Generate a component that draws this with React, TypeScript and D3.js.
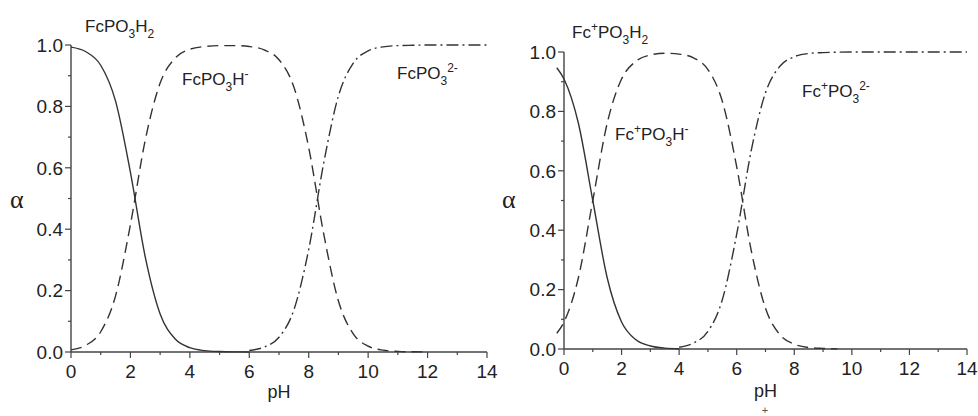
import React, { useEffect, useRef } from 'react'
import * as d3 from 'd3'

// left panel: FcPO3H2 species
const leftAcidPh = [0, 0.5, 1, 1.5, 2, 2.5, 3, 3.5, 4, 4.5, 5, 5.5, 6]
const leftAcid = [0.993, 0.978, 0.934, 0.817, 0.585, 0.309, 0.124, 0.043, 0.014, 0.0045, 0.0014, 0.0004, 0.0001]
const leftMonoPh = [0, 0.5, 1, 1.5, 2, 2.5, 3, 3.5, 4, 4.5, 5, 5.5, 6, 6.5, 7, 7.5, 8, 8.5, 9, 9.5, 10, 10.5, 11, 11.5, 12]
const leftMono = [0.007, 0.022, 0.066, 0.183, 0.415, 0.691, 0.876, 0.957, 0.986, 0.995, 0.998, 0.998, 0.995, 0.984, 0.952, 0.863, 0.666, 0.387, 0.166, 0.059, 0.019, 0.006, 0.002, 0.0006, 0.0002]
const leftDiPh = [6, 6.5, 7, 7.5, 8, 8.5, 9, 9.5, 10, 10.5, 11, 11.5, 12, 12.5, 13, 13.5, 14]
const leftDi = [0.005, 0.016, 0.048, 0.137, 0.334, 0.613, 0.834, 0.941, 0.981, 0.994, 0.998, 0.999, 1, 1, 1, 1, 1]

// right panel: Fc+PO3H2 species
const rightAcidPh = [-0.25, 0, 0.5, 1, 1.5, 2, 2.5, 3, 3.5, 4]
const rightAcid = [0.947, 0.909, 0.76, 0.5, 0.24, 0.091, 0.031, 0.01, 0.003, 0.001]
const rightMonoPh = [-0.25, 0, 0.5, 1, 1.5, 2, 2.5, 3, 3.5, 4, 4.5, 5, 5.5, 6, 6.5, 7, 7.5, 8, 8.5, 9, 9.5]
const rightMono = [0.053, 0.091, 0.24, 0.5, 0.76, 0.909, 0.969, 0.99, 0.996, 0.993, 0.98, 0.941, 0.834, 0.613, 0.334, 0.137, 0.048, 0.016, 0.005, 0.002, 0.0005]
const rightDiPh = [4, 4.5, 5, 5.5, 6, 6.5, 7, 7.5, 8, 8.5, 9, 9.5, 10, 10.5, 11, 11.5, 12, 12.5, 13, 13.5, 14]
const rightDi = [0.006, 0.02, 0.059, 0.166, 0.387, 0.666, 0.863, 0.952, 0.984, 0.995, 0.998, 0.9995, 1, 1, 1, 1, 1, 1, 1, 1, 1]

const xTicks = [0, 2, 4, 6, 8, 10, 12, 14]
const yTicks = [0, 0.2, 0.4, 0.6, 0.8, 1.0]

const leftLabels = [
  [['FcPO', ''], ['3', 'sub'], ['H', ''], ['2', 'sub']],
  [['FcPO', ''], ['3', 'sub'], ['H', ''], ['-', 'sup']],
  [['FcPO', ''], ['3', 'sub'], ['2-', 'sup']],
]
const rightLabels = [
  [['Fc', ''], ['+', 'sup'], ['PO', ''], ['3', 'sub'], ['H', ''], ['2', 'sub']],
  [['Fc', ''], ['+', 'sup'], ['PO', ''], ['3', 'sub'], ['H', ''], ['-', 'sup']],
  [['Fc', ''], ['+', 'sup'], ['PO', ''], ['3', 'sub'], ['2-', 'sup']],
]

const FONT = '"Liberation Sans", Arial, sans-serif'
const INK = '#222'

const panels = [
  {
    box: { left: 71, right: 487, top: 45, bottom: 352 },
    series: [
      { ph: leftAcidPh, a: leftAcid, dash: null },
      { ph: leftMonoPh, a: leftMono, dash: '11,6' },
      { ph: leftDiPh, a: leftDi, dash: '12,4,2,4' },
    ],
    labels: leftLabels,
    labelPos: [[85, 32], [182, 85], [397, 79]],
    alphaX: 10,
    phY: 398,
  },
  {
    box: { left: 564, right: 967, top: 52, bottom: 349 },
    series: [
      { ph: rightAcidPh, a: rightAcid, dash: null },
      { ph: rightMonoPh, a: rightMono, dash: '11,6' },
      { ph: rightDiPh, a: rightDi, dash: '12,4,2,4' },
    ],
    labels: rightLabels,
    labelPos: [[572, 38], [615, 140], [802, 97]],
    alphaX: 502,
    phY: 397,
  },
]

const App = () => {
  const ref = useRef<SVGSVGElement>(null)

  useEffect(() => {
    const svg = d3.select(ref.current)
    svg.selectAll('*').remove()

    panels.forEach((p) => {
      const x = d3.scaleLinear().domain([0, 14]).range([p.box.left, p.box.right])
      const y = d3.scaleLinear().domain([0, 1]).range([p.box.bottom, p.box.top])
      const g = svg.append('g')

      // axes lines
      g.append('line')
        .attr('x1', x(0)).attr('x2', x(0))
        .attr('y1', y(1)).attr('y2', y(0))
        .attr('stroke', '#444').attr('stroke-width', 1.4)
      g.append('line')
        .attr('x1', x(0)).attr('x2', x(14))
        .attr('y1', y(0)).attr('y2', y(0))
        .attr('stroke', '#444').attr('stroke-width', 1.4)

      // y ticks
      d3.range(0, 11).forEach((i) => {
        const v = i / 10
        const major = i % 2 === 0
        g.append('line')
          .attr('x1', x(0) - (major ? 6 : 3)).attr('x2', x(0))
          .attr('y1', y(v)).attr('y2', y(v))
          .attr('stroke', '#444').attr('stroke-width', 1.2)
      })
      g.selectAll('.ylab')
        .data(yTicks)
        .enter()
        .append('text')
        .attr('x', x(0) - 8)
        .attr('y', (d) => y(d))
        .attr('dy', '0.36em')
        .attr('text-anchor', 'end')
        .style('font-family', FONT)
        .style('font-size', '19px')
        .attr('fill', INK)
        .text((d) => d.toFixed(1))

      // x ticks
      d3.range(0, 15).forEach((v) => {
        const major = v % 2 === 0
        g.append('line')
          .attr('x1', x(v)).attr('x2', x(v))
          .attr('y1', y(0)).attr('y2', y(0) + (major ? 6 : 3))
          .attr('stroke', '#444').attr('stroke-width', 1.2)
      })
      g.selectAll('.xlab')
        .data(xTicks)
        .enter()
        .append('text')
        .attr('x', (d) => x(d))
        .attr('y', y(0) + 26)
        .attr('text-anchor', 'middle')
        .style('font-family', FONT)
        .style('font-size', '19px')
        .attr('fill', INK)
        .text((d) => d)

      // axis titles
      g.append('text')
        .attr('x', x(7))
        .attr('y', p.phY)
        .attr('text-anchor', 'middle')
        .style('font-family', FONT)
        .style('font-size', '18px')
        .attr('fill', INK)
        .text('pH')
      g.append('text')
        .attr('x', p.alphaX)
        .attr('y', 208)
        .style('font-family', '"Liberation Serif", "Times New Roman", serif')
        .style('font-size', '26px')
        .attr('fill', INK)
        .text('α')

      // curves
      const line = d3
        .line<[number, number]>()
        .x((d) => x(d[0]))
        .y((d) => y(d[1]))
        .curve(d3.curveMonotoneX)
      p.series.forEach((s) => {
        const pts = s.ph.map((ph, i) => [ph, s.a[i]] as [number, number])
        g.append('path')
          .attr('d', line(pts))
          .attr('fill', 'none')
          .attr('stroke', '#333')
          .attr('stroke-width', 1.4)
          .attr('stroke-dasharray', s.dash)
      })

      // species labels
      p.labels.forEach((parts, i) => {
        const t = g.append('text')
          .attr('x', p.labelPos[i][0])
          .attr('y', p.labelPos[i][1])
          .style('font-family', FONT)
          .style('font-size', '17px')
          .attr('fill', INK)
        let shift = 0
        parts.forEach(([txt, kind]) => {
          const target = kind === 'sub' ? 6 : kind === 'sup' ? -7 : 0
          t.append('tspan')
            .attr('dy', target - shift)
            .style('font-size', kind ? '12px' : '17px')
            .text(txt)
          shift = target
        })
      })
    })

    // stray mark under right pH label
    svg.append('text')
      .attr('x', 765)
      .attr('y', 414)
      .attr('text-anchor', 'middle')
      .style('font-family', FONT)
      .style('font-size', '11px')
      .attr('fill', '#555')
      .text('+')
  }, [])

  return (
    <svg
      ref={ref}
      width={978}
      height={416}
      style={{ position: 'absolute', left: 0, top: 0, background: '#fff' }}
    />
  )
}

export default App
